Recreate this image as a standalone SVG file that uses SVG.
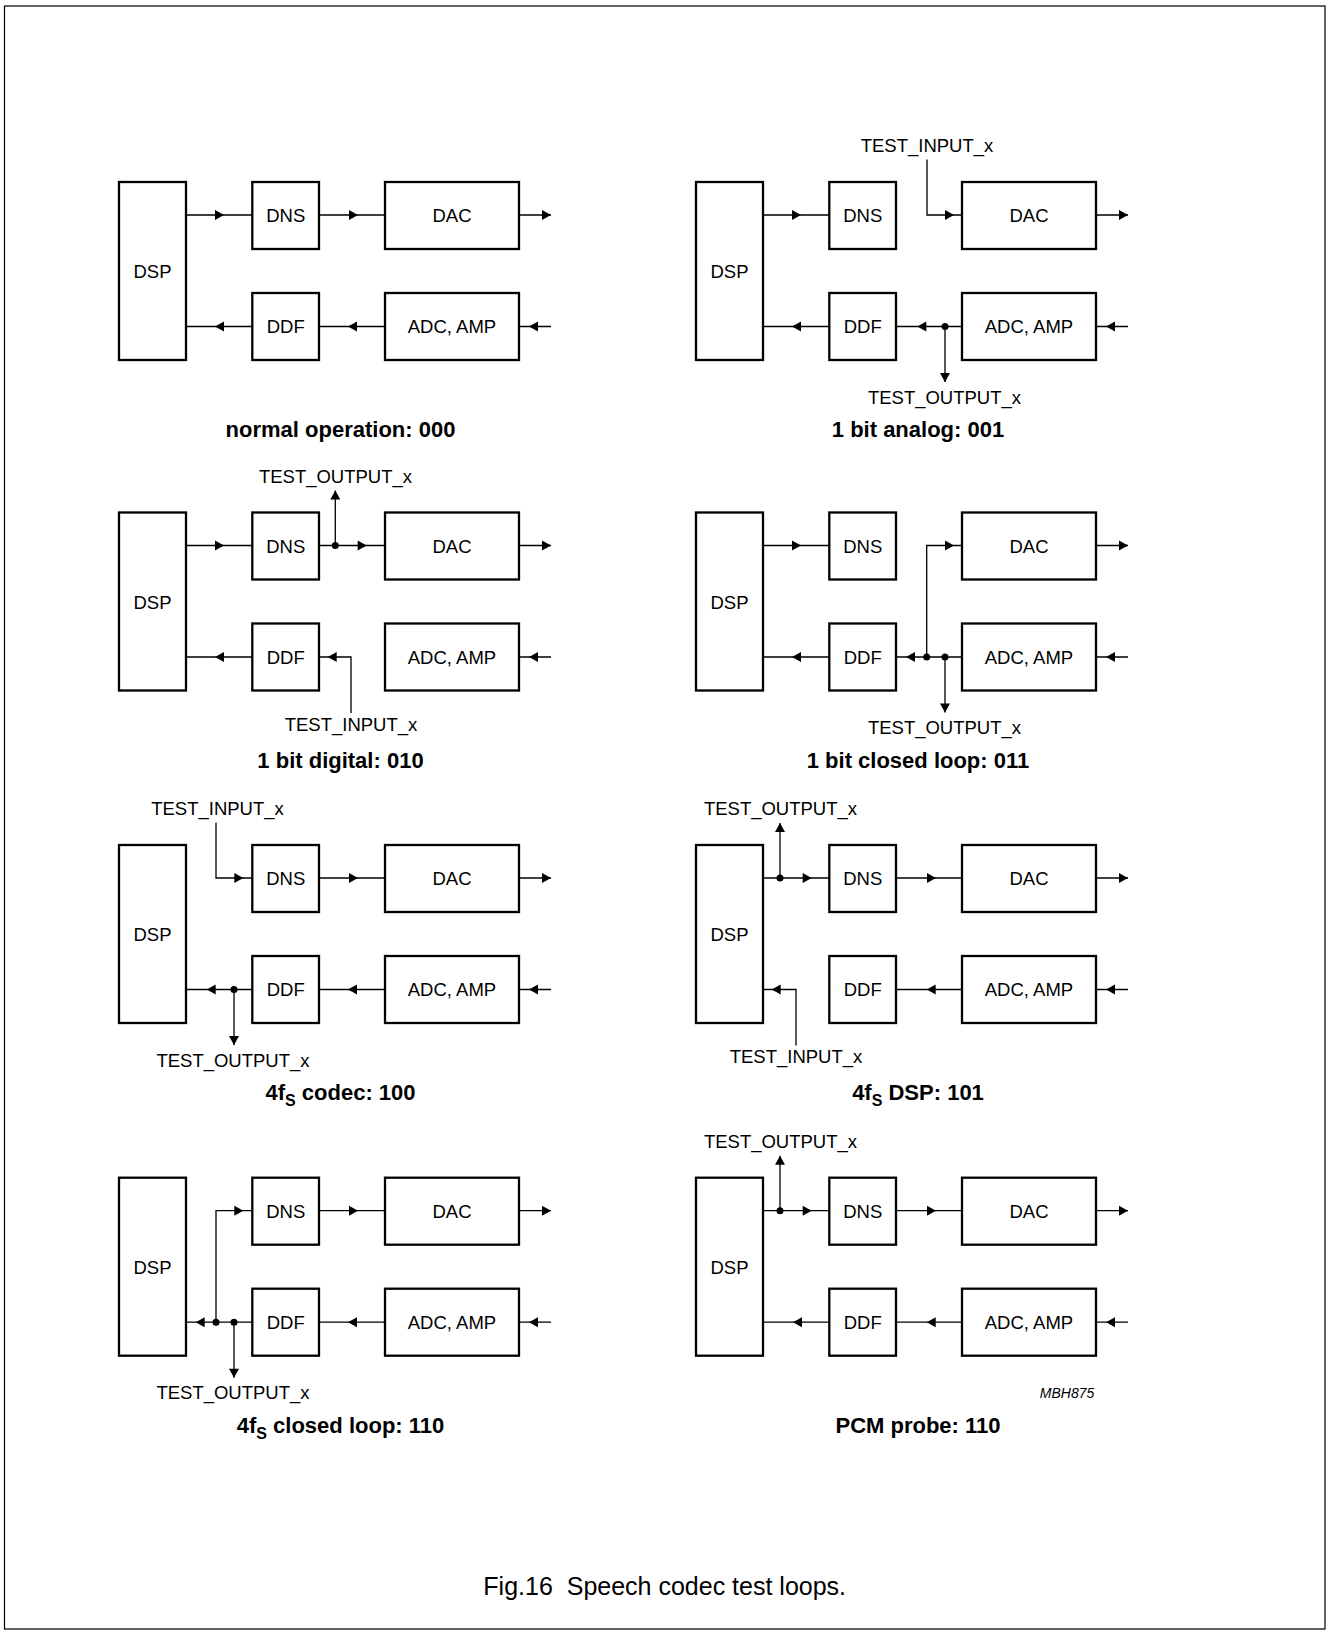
<svg xmlns="http://www.w3.org/2000/svg" xmlns:xlink="http://www.w3.org/1999/xlink" width="1326" height="1630" viewBox="0 0 1326 1630">
<style>
.box{fill:#fff;stroke:#000;stroke-width:2.3}
.ln{fill:none;stroke:#000;stroke-width:1.3}
.lbl{font-family:"Liberation Sans",Arial,sans-serif;font-size:18.5px;fill:#000;text-anchor:middle}
.ttl{font-family:"Liberation Sans",Arial,sans-serif;font-size:22px;font-weight:bold;fill:#000;text-anchor:middle}
.sub{font-size:16px}
.cap{font-family:"Liberation Sans",Arial,sans-serif;font-size:25px;fill:#000;text-anchor:middle}
.code{font-family:"Liberation Sans",Arial,sans-serif;font-size:14px;font-style:italic;fill:#000;text-anchor:end}
.dot{fill:#000}
</style>
<defs>
<path id="ah" d="M0,0 L-9,-5 L-9,5 Z" fill="#000"/>
</defs>
<rect x="4.5" y="6" width="1320.5" height="1623" fill="#fff" stroke="#000" stroke-width="1.2"/>

<!-- Nodes -->
<g id="panel1" transform="translate(0,0)">
<g id="p1-dsp"><rect class="box" x="119" y="182" width="67" height="178"/><text class="lbl" x="152.5" y="278">DSP</text></g>
<g id="p1-dns"><rect class="box" x="252.3" y="182" width="66.7" height="67"/><text class="lbl" x="285.7" y="222">DNS</text></g>
<g id="p1-dac"><rect class="box" x="385" y="182" width="134" height="67"/><text class="lbl" x="452" y="222">DAC</text></g>
<g id="p1-ddf"><rect class="box" x="252.3" y="293" width="66.7" height="67"/><text class="lbl" x="285.7" y="333">DDF</text></g>
<g id="p1-adc"><rect class="box" x="385" y="293" width="134" height="67"/><text class="lbl" x="452" y="333">ADC, AMP</text></g>
<text class="ttl" x="340.5" y="437">normal operation: 000</text>
</g>
<g id="panel2" transform="translate(577,0)">
<g id="p2-dsp"><rect class="box" x="119" y="182" width="67" height="178"/><text class="lbl" x="152.5" y="278">DSP</text></g>
<g id="p2-dns"><rect class="box" x="252.3" y="182" width="66.7" height="67"/><text class="lbl" x="285.7" y="222">DNS</text></g>
<g id="p2-dac"><rect class="box" x="385" y="182" width="134" height="67"/><text class="lbl" x="452" y="222">DAC</text></g>
<g id="p2-ddf"><rect class="box" x="252.3" y="293" width="66.7" height="67"/><text class="lbl" x="285.7" y="333">DDF</text></g>
<g id="p2-adc"><rect class="box" x="385" y="293" width="134" height="67"/><text class="lbl" x="452" y="333">ADC, AMP</text></g>
<text class="lbl" x="350" y="152">TEST_INPUT_x</text>
<text class="lbl" x="367.5" y="403.7">TEST_OUTPUT_x</text>
<text class="ttl" x="341" y="437">1 bit analog: 001</text>
</g>
<g id="panel3" transform="translate(0,330.5)">
<g id="p3-dsp"><rect class="box" x="119" y="182" width="67" height="178"/><text class="lbl" x="152.5" y="278">DSP</text></g>
<g id="p3-dns"><rect class="box" x="252.3" y="182" width="66.7" height="67"/><text class="lbl" x="285.7" y="222">DNS</text></g>
<g id="p3-dac"><rect class="box" x="385" y="182" width="134" height="67"/><text class="lbl" x="452" y="222">DAC</text></g>
<g id="p3-ddf"><rect class="box" x="252.3" y="293" width="66.7" height="67"/><text class="lbl" x="285.7" y="333">DDF</text></g>
<g id="p3-adc"><rect class="box" x="385" y="293" width="134" height="67"/><text class="lbl" x="452" y="333">ADC, AMP</text></g>
<text class="lbl" x="335.5" y="152">TEST_OUTPUT_x</text>
<text class="lbl" x="351" y="400">TEST_INPUT_x</text>
<text class="ttl" x="340.5" y="437">1 bit digital: 010</text>
</g>
<g id="panel4" transform="translate(577,330.5)">
<g id="p4-dsp"><rect class="box" x="119" y="182" width="67" height="178"/><text class="lbl" x="152.5" y="278">DSP</text></g>
<g id="p4-dns"><rect class="box" x="252.3" y="182" width="66.7" height="67"/><text class="lbl" x="285.7" y="222">DNS</text></g>
<g id="p4-dac"><rect class="box" x="385" y="182" width="134" height="67"/><text class="lbl" x="452" y="222">DAC</text></g>
<g id="p4-ddf"><rect class="box" x="252.3" y="293" width="66.7" height="67"/><text class="lbl" x="285.7" y="333">DDF</text></g>
<g id="p4-adc"><rect class="box" x="385" y="293" width="134" height="67"/><text class="lbl" x="452" y="333">ADC, AMP</text></g>
<text class="lbl" x="367.5" y="403.7">TEST_OUTPUT_x</text>
<text class="ttl" x="341" y="437">1 bit closed loop: 011</text>
</g>
<g id="panel5" transform="translate(0,663)">
<g id="p5-dsp"><rect class="box" x="119" y="182" width="67" height="178"/><text class="lbl" x="152.5" y="278">DSP</text></g>
<g id="p5-dns"><rect class="box" x="252.3" y="182" width="66.7" height="67"/><text class="lbl" x="285.7" y="222">DNS</text></g>
<g id="p5-dac"><rect class="box" x="385" y="182" width="134" height="67"/><text class="lbl" x="452" y="222">DAC</text></g>
<g id="p5-ddf"><rect class="box" x="252.3" y="293" width="66.7" height="67"/><text class="lbl" x="285.7" y="333">DDF</text></g>
<g id="p5-adc"><rect class="box" x="385" y="293" width="134" height="67"/><text class="lbl" x="452" y="333">ADC, AMP</text></g>
<text class="lbl" x="217.5" y="152">TEST_INPUT_x</text>
<text class="lbl" x="233" y="403.7">TEST_OUTPUT_x</text>
<text class="ttl" x="340.5" y="437">4f<tspan class="sub" dy="6">S</tspan><tspan dy="-6"> codec: 100</tspan></text>
</g>
<g id="panel6" transform="translate(577,663)">
<g id="p6-dsp"><rect class="box" x="119" y="182" width="67" height="178"/><text class="lbl" x="152.5" y="278">DSP</text></g>
<g id="p6-dns"><rect class="box" x="252.3" y="182" width="66.7" height="67"/><text class="lbl" x="285.7" y="222">DNS</text></g>
<g id="p6-dac"><rect class="box" x="385" y="182" width="134" height="67"/><text class="lbl" x="452" y="222">DAC</text></g>
<g id="p6-ddf"><rect class="box" x="252.3" y="293" width="66.7" height="67"/><text class="lbl" x="285.7" y="333">DDF</text></g>
<g id="p6-adc"><rect class="box" x="385" y="293" width="134" height="67"/><text class="lbl" x="452" y="333">ADC, AMP</text></g>
<text class="lbl" x="203.5" y="152">TEST_OUTPUT_x</text>
<text class="lbl" x="219" y="400">TEST_INPUT_x</text>
<text class="ttl" x="341" y="437">4f<tspan class="sub" dy="6">S</tspan><tspan dy="-6"> DSP: 101</tspan></text>
</g>
<g id="panel7" transform="translate(0,995.7)">
<g id="p7-dsp"><rect class="box" x="119" y="182" width="67" height="178"/><text class="lbl" x="152.5" y="278">DSP</text></g>
<g id="p7-dns"><rect class="box" x="252.3" y="182" width="66.7" height="67"/><text class="lbl" x="285.7" y="222">DNS</text></g>
<g id="p7-dac"><rect class="box" x="385" y="182" width="134" height="67"/><text class="lbl" x="452" y="222">DAC</text></g>
<g id="p7-ddf"><rect class="box" x="252.3" y="293" width="66.7" height="67"/><text class="lbl" x="285.7" y="333">DDF</text></g>
<g id="p7-adc"><rect class="box" x="385" y="293" width="134" height="67"/><text class="lbl" x="452" y="333">ADC, AMP</text></g>
<text class="lbl" x="233" y="403.7">TEST_OUTPUT_x</text>
<text class="ttl" x="340.5" y="437">4f<tspan class="sub" dy="6">S</tspan><tspan dy="-6"> closed loop: 110</tspan></text>
</g>
<g id="panel8" transform="translate(577,995.7)">
<g id="p8-dsp"><rect class="box" x="119" y="182" width="67" height="178"/><text class="lbl" x="152.5" y="278">DSP</text></g>
<g id="p8-dns"><rect class="box" x="252.3" y="182" width="66.7" height="67"/><text class="lbl" x="285.7" y="222">DNS</text></g>
<g id="p8-dac"><rect class="box" x="385" y="182" width="134" height="67"/><text class="lbl" x="452" y="222">DAC</text></g>
<g id="p8-ddf"><rect class="box" x="252.3" y="293" width="66.7" height="67"/><text class="lbl" x="285.7" y="333">DDF</text></g>
<g id="p8-adc"><rect class="box" x="385" y="293" width="134" height="67"/><text class="lbl" x="452" y="333">ADC, AMP</text></g>
<text class="lbl" x="203.5" y="152">TEST_OUTPUT_x</text>
<text class="code" x="517.3" y="402.6">MBH875</text>
<text class="ttl" x="341" y="437">PCM probe: 110</text>
</g>

<!-- Connectors -->
<g id="connectors">
<g id="c1" transform="translate(0,0)">
<path class="ln" d="M186,215H252.3M319,215H385M519,215H551M186,326.5H252.3M319,326.5H385M519,326.5H551"/>
<use xlink:href="#ah" transform="translate(224,215)"/>
<use xlink:href="#ah" transform="translate(358,215)"/>
<use xlink:href="#ah" transform="translate(551,215)"/>
<use xlink:href="#ah" transform="translate(215,326.5) rotate(180)"/>
<use xlink:href="#ah" transform="translate(348,326.5) rotate(180)"/>
<use xlink:href="#ah" transform="translate(529,326.5) rotate(180)"/>
</g>
<g id="c2" transform="translate(577,0)">
<path class="ln" d="M186,215H252.3M350,159.5V215H385M519,215H551M186,326.5H252.3M319,326.5H385M368,326.5V382M519,326.5H551"/>
<use xlink:href="#ah" transform="translate(224,215)"/>
<use xlink:href="#ah" transform="translate(377,215)"/>
<use xlink:href="#ah" transform="translate(551,215)"/>
<use xlink:href="#ah" transform="translate(215,326.5) rotate(180)"/>
<use xlink:href="#ah" transform="translate(340.3,326.5) rotate(180)"/>
<use xlink:href="#ah" transform="translate(529,326.5) rotate(180)"/>
<use xlink:href="#ah" transform="translate(368,382) rotate(90)"/>
<circle class="dot" cx="368" cy="326.5" r="3.5"/>
</g>
<g id="c3" transform="translate(0,330.5)">
<path class="ln" d="M186,215H252.3M319,215H385M335.3,215V160M519,215H551M186,326.5H252.3M351,382.5V326.5H319M519,326.5H551"/>
<use xlink:href="#ah" transform="translate(224,215)"/>
<use xlink:href="#ah" transform="translate(366.7,215)"/>
<use xlink:href="#ah" transform="translate(551,215)"/>
<use xlink:href="#ah" transform="translate(335.3,160) rotate(-90)"/>
<use xlink:href="#ah" transform="translate(215,326.5) rotate(180)"/>
<use xlink:href="#ah" transform="translate(327.7,326.5) rotate(180)"/>
<use xlink:href="#ah" transform="translate(529,326.5) rotate(180)"/>
<circle class="dot" cx="335.3" cy="215" r="3.5"/>
</g>
<g id="c4" transform="translate(577,330.5)">
<path class="ln" d="M186,215H252.3M349.7,326.5V215H385M519,215H551M186,326.5H252.3M319,326.5H385M368,326.5V382M519,326.5H551"/>
<use xlink:href="#ah" transform="translate(224,215)"/>
<use xlink:href="#ah" transform="translate(377,215)"/>
<use xlink:href="#ah" transform="translate(551,215)"/>
<use xlink:href="#ah" transform="translate(215,326.5) rotate(180)"/>
<use xlink:href="#ah" transform="translate(329,326.5) rotate(180)"/>
<use xlink:href="#ah" transform="translate(529,326.5) rotate(180)"/>
<use xlink:href="#ah" transform="translate(368,382) rotate(90)"/>
<circle class="dot" cx="349.7" cy="326.5" r="3.5"/>
<circle class="dot" cx="368" cy="326.5" r="3.5"/>
</g>
<g id="c5" transform="translate(0,663)">
<path class="ln" d="M216,159.5V215H252.3M319,215H385M519,215H551M186,326.5H252.3M234,326.5V382M319,326.5H385M519,326.5H551"/>
<use xlink:href="#ah" transform="translate(243.3,215)"/>
<use xlink:href="#ah" transform="translate(358,215)"/>
<use xlink:href="#ah" transform="translate(551,215)"/>
<use xlink:href="#ah" transform="translate(206.7,326.5) rotate(180)"/>
<use xlink:href="#ah" transform="translate(348,326.5) rotate(180)"/>
<use xlink:href="#ah" transform="translate(529,326.5) rotate(180)"/>
<use xlink:href="#ah" transform="translate(234,382) rotate(90)"/>
<circle class="dot" cx="234" cy="326.5" r="3.5"/>
</g>
<g id="c6" transform="translate(577,663)">
<path class="ln" d="M186,215H252.3M203,215V160M319,215H385M519,215H551M219,382.5V326.5H186M319,326.5H385M519,326.5H551"/>
<use xlink:href="#ah" transform="translate(234.7,215)"/>
<use xlink:href="#ah" transform="translate(359,215)"/>
<use xlink:href="#ah" transform="translate(551,215)"/>
<use xlink:href="#ah" transform="translate(203,160) rotate(-90)"/>
<use xlink:href="#ah" transform="translate(194.7,326.5) rotate(180)"/>
<use xlink:href="#ah" transform="translate(349.7,326.5) rotate(180)"/>
<use xlink:href="#ah" transform="translate(529,326.5) rotate(180)"/>
<circle class="dot" cx="203" cy="215" r="3.5"/>
</g>
<g id="c7" transform="translate(0,995.7)">
<path class="ln" d="M216,326.5V215H252.3M319,215H385M519,215H551M186,326.5H252.3M234,326.5V382M319,326.5H385M519,326.5H551"/>
<use xlink:href="#ah" transform="translate(243.3,215)"/>
<use xlink:href="#ah" transform="translate(358,215)"/>
<use xlink:href="#ah" transform="translate(551,215)"/>
<use xlink:href="#ah" transform="translate(195.7,326.5) rotate(180)"/>
<use xlink:href="#ah" transform="translate(348,326.5) rotate(180)"/>
<use xlink:href="#ah" transform="translate(529,326.5) rotate(180)"/>
<use xlink:href="#ah" transform="translate(234,382) rotate(90)"/>
<circle class="dot" cx="216" cy="326.5" r="3.5"/>
<circle class="dot" cx="234" cy="326.5" r="3.5"/>
</g>
<g id="c8" transform="translate(577,995.7)">
<path class="ln" d="M186,215H252.3M203,215V160M319,215H385M519,215H551M186,326.5H252.3M319,326.5H385M519,326.5H551"/>
<use xlink:href="#ah" transform="translate(234.7,215)"/>
<use xlink:href="#ah" transform="translate(359,215)"/>
<use xlink:href="#ah" transform="translate(551,215)"/>
<use xlink:href="#ah" transform="translate(203,160) rotate(-90)"/>
<use xlink:href="#ah" transform="translate(216,326.5) rotate(180)"/>
<use xlink:href="#ah" transform="translate(349.7,326.5) rotate(180)"/>
<use xlink:href="#ah" transform="translate(529,326.5) rotate(180)"/>
<circle class="dot" cx="203" cy="215" r="3.5"/>
</g>
</g>

<text class="cap" x="664.7" y="1595" xml:space="preserve">Fig.16  Speech codec test loops.</text>
</svg>
